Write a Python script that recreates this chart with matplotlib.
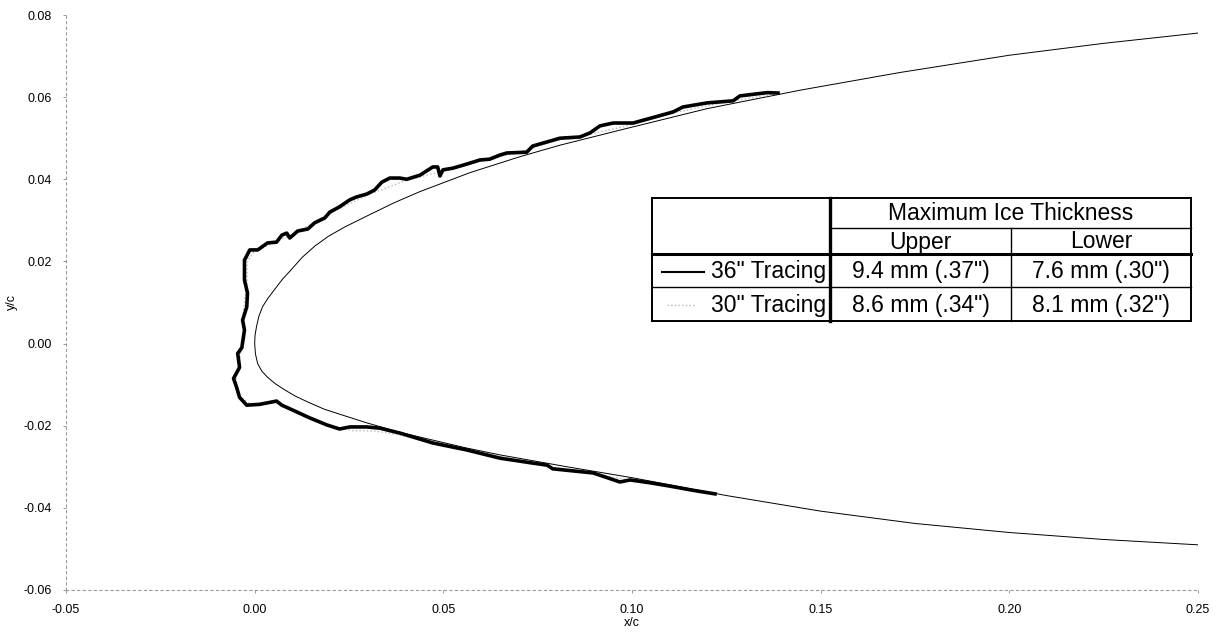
import matplotlib.pyplot as plt
from matplotlib.lines import Line2D
from matplotlib.patches import Rectangle

plt.rcParams['font.family'] = ['Liberation Sans', 'DejaVu Sans']
plt.rcParams['axes.unicode_minus'] = False

# clean airfoil, upper surface from x/c=0.25 round the nose to the lower surface
airfoil_x = [0.25, 0.225, 0.20, 0.171, 0.1446, 0.1199, 0.0987, 0.0809, 0.0703,
             0.057, 0.0438, 0.0370, 0.0305, 0.0239, 0.0195, 0.0159, 0.0126, 0.0098,
             0.0074, 0.0053, 0.0035, 0.0021, 0.0011, 0.0005, 0.0001, 0.0,
             0.0002, 0.0008, 0.0019, 0.0034, 0.0055, 0.0080, 0.0108, 0.0140,
             0.0185, 0.0239, 0.0297, 0.0380, 0.0472, 0.0560, 0.065, 0.0828,
             0.1003, 0.125, 0.15, 0.175, 0.20, 0.225, 0.25]
airfoil_y = [0.0756, 0.0731, 0.0702, 0.0660, 0.0617, 0.0572, 0.0524, 0.0483, 0.0455,
             0.0416, 0.0370, 0.0343, 0.0314, 0.0284, 0.0261, 0.0237, 0.0210, 0.0181,
             0.0157, 0.0132, 0.0110, 0.0090, 0.0066, 0.0042, 0.0020, 0.0,
             -0.0025, -0.0049, -0.0067, -0.0082, -0.0098, -0.0113, -0.0128, -0.0142,
             -0.0160, -0.0176, -0.0193, -0.0215, -0.0235, -0.0254, -0.0271, -0.0300,
             -0.0327, -0.0370, -0.0408, -0.0438, -0.0460, -0.0477, -0.0490]

# 36" tracing
ice36_x = [0.1387, 0.1358, 0.1286, 0.1268, 0.1199, 0.1135, 0.1109, 0.1066, 0.1003,
           0.0950, 0.0915, 0.0889, 0.0862, 0.0809, 0.0737, 0.0721, 0.0668, 0.0650,
           0.0623, 0.0597, 0.0562, 0.0525, 0.0499, 0.0491, 0.0485, 0.0472, 0.0438,
           0.0403, 0.0385, 0.0358, 0.0337, 0.0318, 0.0297, 0.0270, 0.0252, 0.0225,
           0.0199, 0.0186, 0.0159, 0.0141, 0.0114, 0.0093, 0.0085, 0.0072, 0.0058,
           0.0034, 0.0008, -0.0013, -0.0027, -0.0027, -0.0019, -0.0021, -0.0032,
           -0.0027, -0.0034, -0.0045, -0.0040, -0.0056, -0.0048, -0.0040, -0.0021,
           0.0013, 0.0058, 0.0072, 0.0101, 0.0146, 0.0191, 0.0225, 0.0252, 0.0297,
           0.0332, 0.0385, 0.0472, 0.0562, 0.0650, 0.0737, 0.0775, 0.0790, 0.0897,
           0.0968, 0.0995, 0.1048, 0.1100, 0.1160, 0.1220]
ice36_y = [0.0610, 0.0611, 0.0603, 0.0591, 0.0586, 0.0576, 0.0564, 0.0553, 0.0537,
           0.0537, 0.0530, 0.0513, 0.0503, 0.0500, 0.0481, 0.0466, 0.0464, 0.0459,
           0.0449, 0.0447, 0.0437, 0.0427, 0.0423, 0.0408, 0.0430, 0.0430, 0.0410,
           0.0400, 0.0403, 0.0403, 0.0393, 0.0374, 0.0364, 0.0357, 0.0350, 0.0333,
           0.0320, 0.0306, 0.0294, 0.0279, 0.0274, 0.0257, 0.0269, 0.0264, 0.0247,
           0.0245, 0.0228, 0.0228, 0.0203, 0.0155, 0.0123, 0.0089, 0.0057,
           0.0033, -0.0010, -0.0024, -0.0058, -0.0085, -0.0106, -0.0131, -0.0150,
           -0.0148, -0.0140, -0.0150, -0.0162, -0.0181, -0.0198, -0.0208, -0.0203, -0.0203,
           -0.0206, -0.0218, -0.0242, -0.0259, -0.0279, -0.0291, -0.0296, -0.0305, -0.0315,
           -0.0337, -0.0332, -0.0339, -0.0347, -0.0357, -0.0366]

# 30" tracing
ice30_x = [0.137, 0.125, 0.110, 0.100, 0.090, 0.080, 0.070, 0.060, 0.050, 0.040,
           0.030, 0.020, 0.012, 0.006, 0.000, -0.002, -0.002, -0.003, -0.003,
           -0.004, -0.005, -0.004, -0.001, 0.005, 0.010, 0.020, 0.026, 0.032,
           0.040, 0.050, 0.060, 0.070, 0.080, 0.090, 0.100, 0.110, 0.120]
ice30_y = [0.0606, 0.0588, 0.0560, 0.0533, 0.0512, 0.0495, 0.0465, 0.0445, 0.0420, 0.0397,
           0.0362, 0.0318, 0.0275, 0.0249, 0.0226, 0.0200, 0.0150, 0.0080, 0.0020,
           -0.0040, -0.0090, -0.0130, -0.0148, -0.0142, -0.0163, -0.0202, -0.0212, -0.0213,
           -0.0225, -0.0248, -0.0266, -0.0285, -0.0302, -0.0318, -0.0333, -0.0347, -0.0362]

x_ticks = [-0.05, 0.00, 0.05, 0.10, 0.15, 0.20, 0.25]
y_ticks = [-0.06, -0.04, -0.02, 0.00, 0.02, 0.04, 0.06, 0.08]

table_title = 'Maximum Ice Thickness'
table_cols = ['Upper', 'Lower']
table_rows = ['36" Tracing', '30" Tracing']
table_vals = [['9.4 mm (.37")', '7.6 mm (.30")'],
              ['8.6 mm (.34")', '8.1 mm (.32")']]

W, H = 1219, 633
fig = plt.figure(figsize=(W / 100, H / 100), dpi=100)
ax = fig.add_axes([66 / W, 1 - 590 / H, 1132 / W, 575 / H])

ax.plot(airfoil_x, airfoil_y, color='black', lw=0.7, zorder=2)
ax.plot(ice30_x, ice30_y, color='#b8b8b8', lw=1.0, ls=':', zorder=3)
ax.plot(ice36_x, ice36_y, color='black', lw=2.6, zorder=4, solid_joinstyle='round')

ax.set_xlim(-0.05, 0.25)
ax.set_ylim(-0.06, 0.08)
ax.set_xticks(x_ticks)
ax.set_yticks(y_ticks)
ax.set_xticklabels([f'{v:.2f}' for v in x_ticks])
ax.set_yticklabels([f'{v:.2f}' for v in y_ticks])
ax.tick_params(labelsize=9, length=2, width=0.6, color='#888888', pad=8)
ax.set_xlabel('x/c', fontsize=9, labelpad=1)
ax.set_ylabel('y/c', fontsize=9, labelpad=4)
for s in ['top', 'right']:
    ax.spines[s].set_visible(False)
for s in ['left', 'bottom']:
    ax.spines[s].set_color('#9a9a9a')
    ax.spines[s].set_linestyle((0, (2, 3)))
    ax.spines[s].set_linewidth(0.8)


# table drawn in pixel positions of the figure
def fx(px):
    return px / W


def fy(py):
    return 1 - py / H


def hline(x0, x1, y, lw):
    fig.add_artist(Line2D([fx(x0), fx(x1)], [fy(y), fy(y)], color='black',
                          lw=lw, transform=fig.transFigure, zorder=6))


def vline(x, y0, y1, lw):
    fig.add_artist(Line2D([fx(x), fx(x)], [fy(y0), fy(y1)], color='black',
                          lw=lw, transform=fig.transFigure, zorder=6))


L, C1, C2, R = 652, 830, 1011, 1191
T, R1, R2, R3, B = 198, 228, 254, 287, 321
fig.add_artist(Rectangle((fx(L), fy(B)), fx(R) - fx(L), fy(T) - fy(B),
                         facecolor='white', edgecolor='none',
                         transform=fig.transFigure, zorder=5))
hline(L, R, T, 1.4)
hline(L, R, B, 1.4)
vline(L, T, B, 1.4)
vline(R, T, B, 1.4)
vline(C1, T, B, 2.4)
hline(C1, R, R1, 1.0)
hline(L, R, R2, 2.2)
hline(L, R, R3, 1.0)
vline(C2, R1, B, 1.0)

fs = 16.5
tk = dict(fontsize=fs, va='center', zorder=7)
fig.text(fx((C1 + R) / 2), fy((T + R1) / 2 + 1), table_title, ha='center', **tk)
fig.text(fx((C1 + C2) / 2), fy((R1 + R2) / 2 + 1), table_cols[0], ha='center', **tk)
fig.text(fx((C2 + R) / 2), fy((R1 + R2) / 2 + 1), table_cols[1], ha='center', **tk)
row_mid = [(R2 + R3) / 2 + 1, (R3 + B) / 2 + 1]
for i, ym in enumerate(row_mid):
    fig.text(fx(C1 - 4), fy(ym), table_rows[i], ha='right', **tk)
    fig.text(fx((C1 + C2) / 2), fy(ym), table_vals[i][0], ha='center', **tk)
    fig.text(fx((C2 + R) / 2), fy(ym), table_vals[i][1], ha='center', **tk)
fig.add_artist(Line2D([fx(662), fx(704)], [fy(row_mid[0]), fy(row_mid[0])],
                      color='black', lw=1.5, transform=fig.transFigure, zorder=7))
fig.add_artist(Line2D([fx(667), fx(695)], [fy(row_mid[1]), fy(row_mid[1])],
                      color='#b8b8b8', lw=1.0, ls=':', transform=fig.transFigure, zorder=7))

fig.savefig('out.png', dpi=100)
